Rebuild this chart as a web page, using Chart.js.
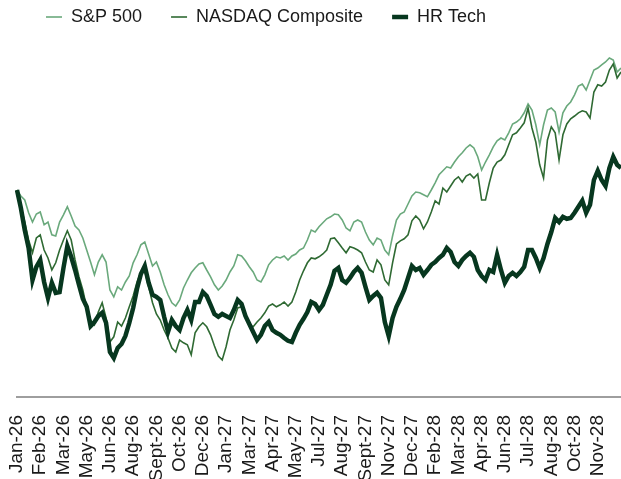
<!DOCTYPE html>
<html lang="en">
<head>
<meta charset="UTF-8">
<title>S&amp;P 500 vs NASDAQ vs HR Tech</title>
<script src="https://cdn.jsdelivr.net/npm/chart.js"></script>
<style>
  html, body { margin: 0; padding: 0; background: #ffffff; }
  canvas { display: block; }
</style>
</head>
<body>
<canvas id="perfChart" width="621" height="479"></canvas>
<script>
  // month shown under every 6th point (weekly-ish readings)
  const tickMonths = ['Jan-26', 'Feb-26', 'Mar-26', 'May-26', 'Jun-26', 'Aug-26', 'Sept-26', 'Oct-26', 'Dec-26',
    'Jan-27', 'Mar-27', 'Apr-27', 'May-27', 'Jul-27', 'Aug-27', 'Sept-27', 'Nov-27', 'Dec-27',
    'Feb-28', 'Mar-28', 'Apr-28', 'Jun-28', 'Jul-28', 'Aug-28', 'Oct-28', 'Nov-28'];
  const pointsPerTick = 6;

  // indexed to 100 at the start
  const sp500 = [100, 98.5, 97.5, 94.3, 92, 94, 94.5, 91.3, 92, 88.8, 88.5, 92, 93.8, 95.8, 93.5, 91, 90, 88, 85, 82,
    78.8, 82, 83.8, 82, 75, 73.3, 75.8, 75, 77, 78.5, 81.8, 83.8, 86.3, 87, 84, 81, 82, 79.5, 76.3, 73.8,
    71.8, 71, 72.5, 75.5, 77.5, 79.3, 80.5, 81.5, 81.8, 80, 78.3, 76.3, 75, 76, 77.5, 79.5, 81, 83.8, 83.5, 82.3,
    80.8, 79.5, 77.5, 77, 78.8, 81.3, 82.5, 83.3, 83, 83.5, 82.5, 83.5, 84, 85, 85.5, 87.5, 90, 89.5, 90.8, 91.8,
    92.8, 93.3, 94, 93.8, 92.5, 90.5, 89.8, 92, 92.5, 92, 89.5, 87.5, 86.3, 88, 87.5, 85, 83.8, 88.5, 92.5, 94,
    94.5, 96.5, 98.5, 99.5, 99.3, 98.8, 98.3, 100, 101.8, 103.8, 104.8, 105.8, 105.5, 107, 108.3, 109.3, 110.5, 111.3, 110.5, 108.3,
    105, 107, 108.8, 110.8, 112.3, 113, 112.5, 114.3, 116.5, 117, 117.8, 119.3, 121.5, 120, 116.3, 111.3, 116.3, 120, 120.5, 119.5,
    114.5, 119.3, 121, 122, 123.8, 126, 126.5, 125, 127.5, 130, 130.5, 131.3, 132, 133, 132.5, 129.5, 130.5];

  const nasdaq = [100, 95.8, 92, 87.5, 84.3, 88, 88.8, 85, 83, 80, 81.8, 85, 87.5, 89.8, 87.5, 82.5, 78.3, 75, 70.5, 67.5,
    66.3, 69.5, 71.8, 68, 62, 63.3, 67, 66, 68, 70.8, 73.5, 77, 79.5, 79.8, 75.8, 71.8, 69, 67.5, 65, 63,
    60.5, 59.5, 62.5, 61.8, 61.3, 58.8, 64.3, 65.8, 66.8, 65.8, 63.8, 61, 58.5, 57.5, 60.8, 65, 67.5, 70.5, 70.8, 68,
    66.3, 65.8, 67, 68, 69.3, 71, 71.5, 70.8, 71.3, 72, 71, 72, 74.5, 77.5, 79.8, 81.8, 83, 82.8, 83.3, 84,
    85, 87.8, 88, 86.8, 85.5, 84.3, 85.8, 85.5, 85, 84.3, 82, 80, 79.5, 82.5, 81.3, 77.5, 76.3, 81.8, 86.5, 87.3,
    87.8, 88.8, 92.3, 93.5, 92.5, 90.3, 92, 94.5, 97.3, 96.5, 100.5, 99.5, 101, 102.5, 103.3, 102, 103.5, 104, 103, 104,
    97.5, 97.5, 101.8, 105.5, 107, 107.5, 108.8, 111.3, 113.8, 114.3, 115.5, 116.8, 120.5, 115.5, 112, 106.3, 103, 112.5, 115.8, 114.3,
    107.5, 113.8, 116.5, 117.8, 118.5, 119.3, 119.8, 119.5, 118, 124.5, 126.3, 126, 127, 130, 131.5, 128, 129.5];

  const hrTech = [100, 95.5, 90, 85.5, 77.5, 80.8, 82.5, 77, 73, 76.8, 74.3, 74.5, 80.5, 86, 83.3, 80, 76.3, 72.8, 70.8, 66,
    67, 68.5, 69.3, 66.8, 59.5, 58, 60.5, 61.5, 63.5, 66.8, 70.5, 75.3, 79, 81, 76.8, 73.8, 73.3, 72.5, 68.3, 64.5,
    67.5, 66, 65, 68, 70, 67.5, 72, 72, 74.5, 73.5, 71.3, 69, 68.3, 69, 68.5, 68, 70, 72.5, 71.5, 68.5,
    66.5, 64.5, 62.5, 63.8, 66, 67, 65, 64.3, 63.8, 63, 62.3, 62, 64.3, 66.3, 67.8, 69.5, 72, 71.5, 70, 71.3,
    73.8, 76.3, 79.8, 80.5, 77.5, 76.8, 78, 79.5, 80.5, 79.3, 75.8, 72.5, 73.5, 74.3, 73, 67, 63.5, 68, 70.8, 72.8,
    75, 78, 81, 80, 80.5, 78.8, 80, 81.3, 82, 83, 83.8, 85.5, 84.5, 82, 81, 82.5, 83.5, 84.3, 83.3, 80,
    78.5, 77.5, 80, 79.5, 83.8, 80, 76.8, 78.5, 79.3, 78.5, 79.5, 80.8, 85, 85, 83, 80.5, 83, 86.5, 89.5, 93,
    92, 93.3, 92.8, 93, 94.3, 95.8, 97.3, 94.3, 96.3, 102.5, 104.8, 102.5, 101, 105.5, 108.3, 106.3, 105.5];

  const seriesNames = ['S&P 500', 'NASDAQ Composite', 'HR Tech'];
  const seriesColors = ['#6aa97c', '#2f6a33', '#07371f'];
  const seriesWidths = [1.6, 1.6, 4.5];

  const labels = sp500.map((v, i) => tickMonths[Math.min(Math.floor(i / pointsPerTick), tickMonths.length - 1)]);

  const datasets = [sp500, nasdaq, hrTech].map((data, k) => ({
    label: seriesNames[k],
    data: data,
    borderColor: seriesColors[k],
    backgroundColor: seriesColors[k],
    borderWidth: seriesWidths[k],
    pointRadius: 0,
    pointHoverRadius: 0,
    pointStyle: 'line',
    tension: 0,
    fill: false,
    order: 2 - k
  }));

  new Chart(document.getElementById('perfChart'), {
    type: 'line',
    data: { labels: labels, datasets: datasets },
    options: {
      responsive: false,
      animation: false,
      layout: { padding: { top: -21, left: 17, right: 0, bottom: 0 } },
      plugins: {
        tooltip: { enabled: false },
        legend: {
          position: 'top',
          align: 'start',
          labels: {
            usePointStyle: true,
            pointStyleWidth: 16,
            boxHeight: 10,
            padding: 29,
            color: '#1a1a1a',
            font: { family: "'Liberation Sans', Arial, sans-serif", size: 18 },
            sort: (a, b) => a.datasetIndex - b.datasetIndex
          }
        }
      },
      scales: {
        x: {
          grid: { display: false },
          border: { display: true, color: '#9e9e9e', width: 2 },
          ticks: {
            autoSkip: false,
            minRotation: 90,
            maxRotation: 90,
            padding: 10,
            color: '#1a1a1a',
            font: { family: "'Liberation Sans', Arial, sans-serif", size: 19 },
            callback: (value, i) => (i % pointsPerTick === 0 && i / pointsPerTick < tickMonths.length)
              ? tickMonths[i / pointsPerTick] : null
          },
          // the labels run off the bottom edge in the original, keep the axis where it sits there
          afterFit: (scale) => {
            scale.paddingLeft = 0;
            scale.paddingRight = 0;
            scale.height = 82;
          }
        },
        y: {
          display: false,
          min: 48.25,
          max: 138.5
        }
      }
    }
  });
</script>
</body>
</html>
